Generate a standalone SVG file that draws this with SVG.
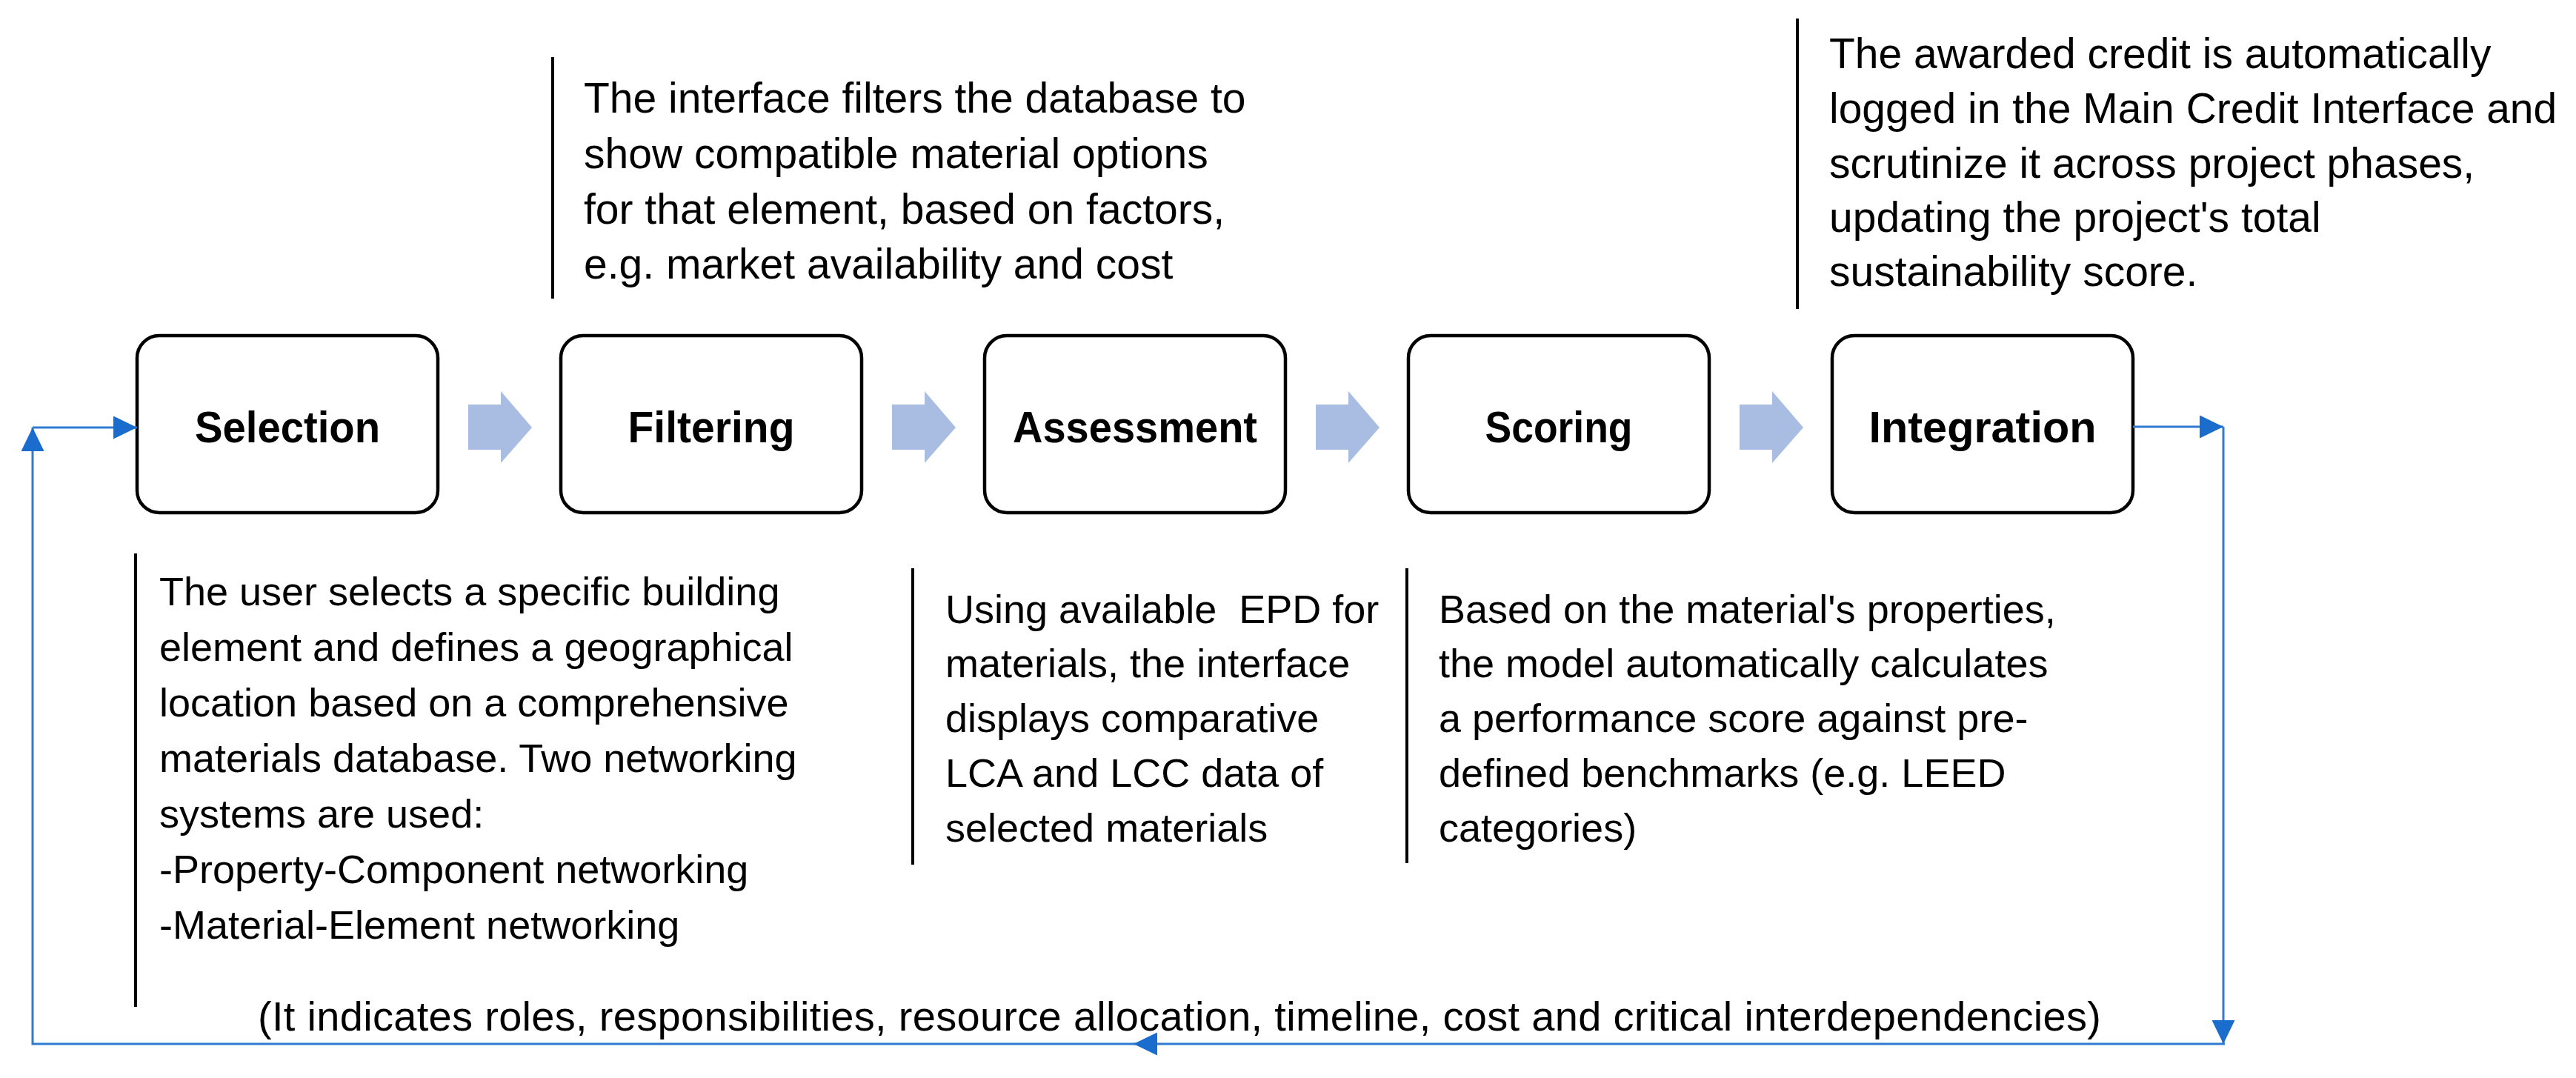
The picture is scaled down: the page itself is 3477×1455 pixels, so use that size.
<svg xmlns="http://www.w3.org/2000/svg" width="3477" height="1455" viewBox="0 0 3477 1455">
  <style>
    .box { fill: #ffffff; stroke: #000000; stroke-width: 4.5; }
    .lbl { font-family: "Liberation Sans", Arial, sans-serif; font-weight: bold; font-size: 60px; fill: #000000; text-anchor: middle; }
    .txt { font-family: "Liberation Sans", Arial, sans-serif; font-size: 54px; fill: #000000; }
    .top { font-size: 57px; }
    .cap { font-size: 56px; }
    .bar { stroke: #000000; stroke-width: 4; fill: none; }
    .flow { fill: #A9BDE3; stroke: none; }
    .loop { stroke: #2E7BD1; stroke-width: 3; fill: none; }
  </style>
  <defs>
    <marker id="ah" viewBox="0 0 32 31" refX="32" refY="15.5" markerWidth="32" markerHeight="31" markerUnits="userSpaceOnUse" orient="auto">
      <path d="M0,0 L32,15.5 L0,31 z" fill="#1A6DCC"/>
    </marker>
  </defs>
  <rect width="3477" height="1455" fill="#ffffff"/>

  <g id="node-selection">
    <rect class="box" x="185" y="453" width="406" height="239" rx="30" ry="30"/>
    <text class="lbl" x="388" y="597" textLength="250" lengthAdjust="spacingAndGlyphs">Selection</text>
  </g>
  <g id="node-filtering">
    <rect class="box" x="757" y="453" width="406" height="239" rx="30" ry="30"/>
    <text class="lbl" x="960" y="597" textLength="225" lengthAdjust="spacingAndGlyphs">Filtering</text>
  </g>
  <g id="node-assessment">
    <rect class="box" x="1329" y="453" width="406" height="239" rx="30" ry="30"/>
    <text class="lbl" x="1532" y="597" textLength="330" lengthAdjust="spacingAndGlyphs">Assessment</text>
  </g>
  <g id="node-scoring">
    <rect class="box" x="1901" y="453" width="406" height="239" rx="30" ry="30"/>
    <text class="lbl" x="2104" y="597" textLength="199" lengthAdjust="spacingAndGlyphs">Scoring</text>
  </g>
  <g id="node-integration">
    <rect class="box" x="2473" y="453" width="406" height="239" rx="30" ry="30"/>
    <text class="lbl" x="2676" y="597" textLength="307" lengthAdjust="spacingAndGlyphs">Integration</text>
  </g>

  <g id="note-filtering">
    <line class="bar" x1="746" y1="77" x2="746" y2="403"/>
    <text class="txt top" x="788" y="152">The interface filters the database to</text>
    <text class="txt top" x="788" y="227">show compatible material options</text>
    <text class="txt top" x="788" y="302">for that element, based on factors,</text>
    <text class="txt top" x="788" y="376">e.g. market availability and cost</text>
  </g>
  <g id="note-integration">
    <line class="bar" x1="2426" y1="25" x2="2426" y2="417"/>
    <text class="txt top" x="2469" y="92">The awarded credit is automatically</text>
    <text class="txt top" x="2469" y="166">logged in the Main Credit Interface and</text>
    <text class="txt top" x="2469" y="240">scrutinize it across project phases,</text>
    <text class="txt top" x="2469" y="313">updating the project's total</text>
    <text class="txt top" x="2469" y="386">sustainability score.</text>
  </g>
  <g id="note-selection">
    <line class="bar" x1="183" y1="747" x2="183" y2="1359"/>
    <text class="txt" x="215" y="817">The user selects a specific building</text>
    <text class="txt" x="215" y="892">element and defines a geographical</text>
    <text class="txt" x="215" y="967">location based on a comprehensive</text>
    <text class="txt" x="215" y="1042">materials database. Two networking</text>
    <text class="txt" x="215" y="1117">systems are used:</text>
    <text class="txt" x="215" y="1192">-Property-Component networking</text>
    <text class="txt" x="215" y="1267">-Material-Element networking</text>
  </g>
  <g id="note-assessment">
    <line class="bar" x1="1232" y1="767" x2="1232" y2="1167"/>
    <text class="txt" x="1276" y="841">Using available&#160; EPD for</text>
    <text class="txt" x="1276" y="914">materials, the interface</text>
    <text class="txt" x="1276" y="988">displays comparative</text>
    <text class="txt" x="1276" y="1062">LCA and LCC data of</text>
    <text class="txt" x="1276" y="1136">selected materials</text>
  </g>
  <g id="note-scoring">
    <line class="bar" x1="1899" y1="767" x2="1899" y2="1165"/>
    <text class="txt" x="1942" y="841">Based on the material's properties,</text>
    <text class="txt" x="1942" y="914">the model automatically calculates</text>
    <text class="txt" x="1942" y="988">a performance score against pre-</text>
    <text class="txt" x="1942" y="1062">defined benchmarks (e.g. LEED</text>
    <text class="txt" x="1942" y="1136">categories)</text>
  </g>
  <g id="caption">
    <text class="txt cap" x="348" y="1391" textLength="2488" lengthAdjust="spacing">(It indicates roles, responsibilities, resource allocation, timeline, cost and critical interdependencies)</text>
  </g>

  <g id="connectors">
    <path class="flow" d="M632,546 H676 V528 L718,577 L676,625 V607 H632 z"/>
    <path class="flow" d="M1204,546 H1248 V528 L1290,577 L1248,625 V607 H1204 z"/>
    <path class="flow" d="M1776,546 H1820 V528 L1862,577 L1820,625 V607 H1776 z"/>
    <path class="flow" d="M2348,546 H2392 V528 L2434,577 L2392,625 V607 H2348 z"/>
    <path class="loop" d="M2879,576 H3001" marker-end="url(#ah)"/>
    <path class="loop" d="M3001,576 V1409" marker-end="url(#ah)"/>
    <path class="loop" d="M3003,1409 H1530" marker-end="url(#ah)"/>
    <path class="loop" d="M1532,1409 H44 V577" marker-end="url(#ah)"/>
    <path class="loop" d="M44,577 H185" marker-end="url(#ah)"/>
  </g>
</svg>
